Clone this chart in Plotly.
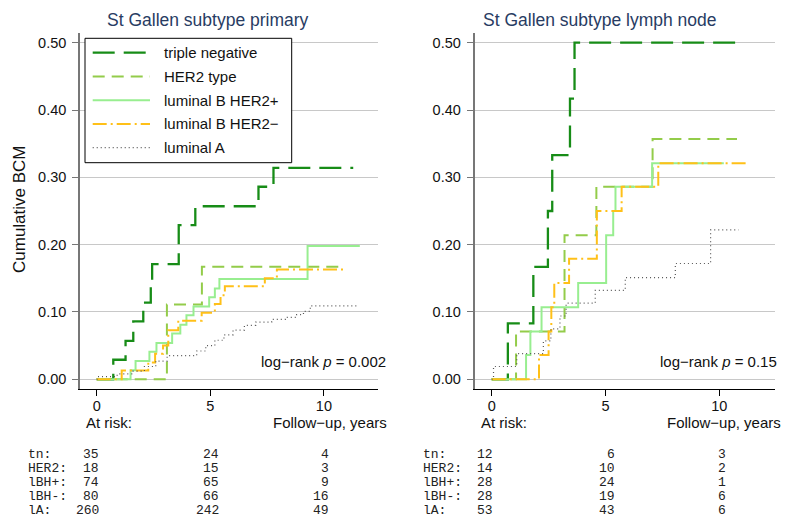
import plotly.graph_objects as go

# ---- data (time in years, cumulative BCM) ----
groups = ["triple negative", "HER2 type", "luminal B HER2+", "luminal B HER2\u2212", "luminal A"]
row_labels = ["tn:", "HER2:", "lBH+:", "lBH-:", "lA:"]
panel_titles = ["St Gallen subtype primary", "St Gallen subtype lymph node"]
pvalues = ["0.002", "0.15"]
x_ticks = [0, 5, 10]

# primary tumour
tn_p_t = [0, 0.73, 1.27, 1.61, 2.05, 2.38, 2.44, 3.61, 4.34, 7.12, 7.78, 11.29]
tn_p_y = [0, 0.029, 0.057, 0.086, 0.114, 0.143, 0.171, 0.229, 0.257, 0.286, 0.314, 0.314]
her2_p_t = [0, 3.09, 4.63, 10.9]
her2_p_y = [0, 0.111, 0.167, 0.167]
lbhp_p_t = [0, 1.49, 1.71, 2.32, 2.63, 3.32, 3.68, 3.95, 4.26, 4.95, 5.2, 5.4, 9.28, 11.58]
lbhp_p_y = [0, 0.0135, 0.027, 0.041, 0.054, 0.068, 0.081, 0.095, 0.108, 0.122, 0.135, 0.149, 0.198, 0.198]
lbhm_p_t = [0, 1.1, 2.27, 2.57, 2.92, 3.15, 3.59, 4.62, 5.2, 5.45, 5.64, 7.4, 7.93, 11.0]
lbhm_p_y = [0, 0.013, 0.025, 0.038, 0.05, 0.073, 0.087, 0.099, 0.112, 0.125, 0.138, 0.15, 0.163, 0.163]
la_p_t = [0, 0.05, 0.9, 1.6, 2.1, 2.6, 3.1, 4.4, 4.8, 5.2, 5.6, 6.0, 6.5, 7.0, 7.7, 8.3, 8.8, 9.1, 9.4, 11.55]
la_p_y = [0, 0.004, 0.008, 0.012, 0.019, 0.027, 0.035, 0.042, 0.05, 0.058, 0.066, 0.073, 0.08, 0.085,
          0.089, 0.092, 0.096, 0.101, 0.109, 0.109]

# lymph node
tn_l_t = [0, 0.71, 1.83, 2.47, 2.66, 3.44, 3.64, 11.07]
tn_l_y = [0, 0.083, 0.167, 0.25, 0.333, 0.417, 0.5, 0.5]
her2_l_t = [0, 1.07, 3.2, 4.6, 7.07, 10.78]
her2_l_y = [0, 0.071, 0.214, 0.286, 0.357, 0.357]
lbhp_l_t = [0, 1.51, 1.7, 2.19, 3.8, 5.03, 5.34, 5.44, 7.05, 10.2]
lbhp_l_y = [0, 0.036, 0.071, 0.107, 0.143, 0.214, 0.25, 0.286, 0.321, 0.321]
lbhm_l_t = [0, 2.08, 2.5, 2.62, 2.75, 3.4, 4.62, 5.71, 7.32, 11.28]
lbhm_l_y = [0, 0.036, 0.071, 0.107, 0.143, 0.179, 0.25, 0.286, 0.321, 0.321]
la_l_t = [0, 0.08, 1.1, 2.27, 2.6, 3.0, 3.27, 4.55, 5.87, 8.07, 9.62, 10.85]
la_l_y = [0, 0.019, 0.038, 0.057, 0.075, 0.094, 0.113, 0.132, 0.151, 0.172, 0.222, 0.222]

# numbers at risk at 0, 5, 10 years
risk_primary = [[35, 24, 4], [18, 15, 3], [74, 65, 9], [80, 66, 16], [260, 242, 49]]
risk_lymph = [[12, 6, 3], [14, 10, 2], [28, 24, 1], [28, 19, 6], [53, 43, 6]]

# ---- styling ----
COLORS = ["#178C17", "#93CC4A", "#98EE90", "#FFC018", "#555555"]
DASHES = ["22px,9px", "12px,7px", "solid", "14px,4px,2px,4px", "1px,3px"]
WIDTHS = [2.3, 2.0, 2.0, 2.0, 1.2]
SANS = "Liberation Sans, Arial, sans-serif"
MONO = "Liberation Mono, Courier New, monospace"
TITLE_C = "#283C63"

# the page body adds an 8px margin, so the figure is 16px smaller than the window
OFF = 8
W, H = 791 - 2 * OFF, 524 - 2 * OFF


def px(x):
    return (x - OFF) / W


def py(y):
    return 1 - (y - OFF) / H


panels = [
    dict(series=[(tn_p_t, tn_p_y), (her2_p_t, her2_p_y), (lbhp_p_t, lbhp_p_y),
                 (lbhm_p_t, lbhm_p_y), (la_p_t, la_p_y)],
         risk=risk_primary, xaxis="x", yaxis="y",
         xr=[-0.735, 12.38],
         title_x=105, plab=388, lab_x=26.7, cols=[100, 220, 330],
         atrisk_x=85, follow_x=388),
    dict(series=[(tn_l_t, tn_l_y), (her2_l_t, her2_l_y), (lbhp_l_t, lbhp_l_y),
                 (lbhm_l_t, lbhm_l_y), (la_l_t, la_l_y)],
         risk=risk_lymph, xaxis="x2", yaxis="y2",
         xr=[-0.756, 12.45],
         title_x=481, plab=779, lab_x=421.7, cols=[494.5, 616, 727],
         atrisk_x=480, follow_x=782),
]

fig = go.Figure()
ann = []
shapes = []

for k, p in enumerate(panels):
    for i, (t, v) in enumerate(p["series"]):
        fig.add_trace(go.Scatter(
            x=t, y=v, mode="lines", line_shape="hv", name=groups[i],
            line=dict(color=COLORS[i], width=WIDTHS[i], dash=DASHES[i]),
            xaxis=p["xaxis"], yaxis=p["yaxis"], showlegend=False,
        ))
    ann.append(dict(text=panel_titles[k], x=px(p["title_x"]), y=py(20), xref="paper", yref="paper",
                    xanchor="left", yanchor="middle", showarrow=False,
                    font=dict(family=SANS, size=17.5, color=TITLE_C)))
    ann.append(dict(text="log\u2212rank <i>p</i> = " + pvalues[k], x=px(p["plab"]), y=py(361),
                    xref="paper", yref="paper", xanchor="right", yanchor="middle", showarrow=False,
                    font=dict(family=SANS, size=15, color="#111")))
    ann.append(dict(text="At risk:", x=px(p["atrisk_x"]), y=py(422.5), xref="paper", yref="paper",
                    xanchor="left", yanchor="middle", showarrow=False, borderpad=0,
                    font=dict(family=SANS, size=15, color="#111")))
    ann.append(dict(text="Follow\u2212up, years", x=px(p["follow_x"]), y=py(422.5), xref="paper", yref="paper",
                    xanchor="right", yanchor="middle", showarrow=False, borderpad=0,
                    font=dict(family=SANS, size=15, color="#111")))
    # numbers-at-risk table in a fixed-width font
    for r, lab in enumerate(row_labels):
        yy = py(453.5 + r * 14.1)
        ann.append(dict(text=lab, x=px(p["lab_x"]), y=yy, xref="paper", yref="paper",
                        xanchor="left", yanchor="middle", showarrow=False, height=12, borderpad=0,
                        font=dict(family=MONO, size=13, color="#222")))
        for c, n in enumerate(p["risk"][r]):
            ann.append(dict(text=str(n), x=px(p["cols"][c]), y=yy, xref="paper", yref="paper",
                            xanchor="right", yanchor="middle", showarrow=False, height=12, borderpad=0,
                            font=dict(family=MONO, size=13, color="#222")))

# y-axis title
ann.append(dict(text="Cumulative BCM", x=px(20), y=py(209), xref="paper", yref="paper",
                textangle=-90, xanchor="center", yanchor="middle", showarrow=False,
                font=dict(family=SANS, size=17, color="#111")))

# legend box drawn by hand (matches the Stata layout)
shapes.append(dict(type="rect", xref="paper", yref="paper", x0=px(85), x1=px(291.7),
                   y0=py(162.7), y1=py(38.3), fillcolor="white",
                   line=dict(color="black", width=1), layer="above"))
for i, g in enumerate(groups):
    ly = py(52.7 + i * 23.75)
    shapes.append(dict(type="line", xref="paper", yref="paper", x0=px(92.7), x1=px(150),
                       y0=ly, y1=ly, layer="above",
                       line=dict(color=COLORS[i], width=WIDTHS[i], dash=DASHES[i])))
    ann.append(dict(text=g, x=px(162), y=ly, xref="paper", yref="paper",
                    xanchor="left", yanchor="middle", showarrow=False,
                    font=dict(family=SANS, size=15, color="#111")))

ydom = [py(389.3), py(33)]
yr = [-0.0149, 0.5144]
xa = dict(tickvals=x_ticks, ticks="outside", ticklen=6, tickcolor="black", showline=True,
          linecolor="black", linewidth=1.3, showgrid=False, zeroline=False,
          tickfont=dict(family=SANS, size=14.5, color="#111"), ticklabelstandoff=-3)
ya = dict(range=yr, domain=ydom, tickvals=[0, 0.1, 0.2, 0.3, 0.4, 0.5], tickformat=".2f",
          ticks="outside", ticklen=6, tickcolor="#777", showline=True, linecolor="#777",
          linewidth=1.5, showgrid=True, gridcolor="#c8c8c8", gridwidth=1.2, zeroline=False,
          tickfont=dict(family=SANS, size=14.5, color="#111"), ticklabelstandoff=3)

fig.update_layout(
    width=W, height=H, margin=dict(l=0, r=0, t=0, b=0),
    paper_bgcolor="white", plot_bgcolor="white", showlegend=False,
    xaxis=dict(xa, domain=[px(80), px(378)], range=panels[0]["xr"], anchor="y"),
    xaxis2=dict(xa, domain=[px(474.5), px(775)], range=panels[1]["xr"], anchor="y2"),
    yaxis=dict(ya, anchor="x"),
    yaxis2=dict(ya, anchor="x2"),
    annotations=ann, shapes=shapes,
)

fig.write_html("out.html")
